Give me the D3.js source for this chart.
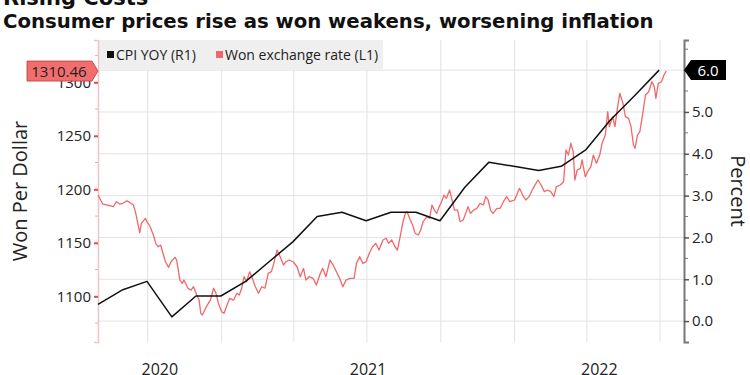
<!DOCTYPE html>
<html>
<head>
<meta charset="utf-8">
<script src="https://cdn.jsdelivr.net/npm/d3@7"></script>
<style>
  body { margin: 0; background: #fff; }
  svg { display: block; }
</style>
</head>
<body>
<svg id="chart"></svg>
<script>
// chart text
const title = "Rising Costs";
const subtitle = "Consumer prices rise as won weakens, worsening inflation";
const legendLabels = ["CPI YOY (R1)", "Won exchange rate (L1)"];
const leftLabel = "Won Per Dollar";
const rightLabel = "Percent";

// CPI year over year, percent (right axis), month end
const cpiYoy = [
  ["2020-07-31", 0.4], ["2020-08-31", 0.75], ["2020-09-30", 0.95], ["2020-10-31", 0.1],
  ["2020-11-30", 0.6], ["2020-12-31", 0.6], ["2021-01-31", 0.95], ["2021-02-28", 1.4],
  ["2021-03-31", 1.9], ["2021-04-30", 2.5], ["2021-05-31", 2.6], ["2021-06-30", 2.4],
  ["2021-07-31", 2.6], ["2021-08-31", 2.6], ["2021-09-30", 2.4], ["2021-10-31", 3.2],
  ["2021-11-30", 3.8], ["2021-12-31", 3.7], ["2022-01-31", 3.6], ["2022-02-28", 3.7],
  ["2022-03-31", 4.1], ["2022-04-30", 4.8], ["2022-05-31", 5.4], ["2022-06-30", 6.0]
];

// won per dollar (left axis)
const wonRate = [
  ["2020-07-31", 1194.7], ["2020-08-06", 1186.2], ["2020-08-12", 1185.3], ["2020-08-19", 1183.7],
  ["2020-08-23", 1188.4], ["2020-08-27", 1186.2], ["2020-08-31", 1186.9], ["2020-09-05", 1189.3],
  ["2020-09-09", 1187.5], ["2020-09-13", 1185.3], ["2020-09-15", 1180.6], ["2020-09-17", 1174.4],
  ["2020-09-19", 1166.6], ["2020-09-21", 1159.4], ["2020-09-23", 1168.2], ["2020-09-28", 1172.9],
  ["2020-09-30", 1169.7], ["2020-10-04", 1165.0], ["2020-10-08", 1157.3], ["2020-10-11", 1149.5],
  ["2020-10-14", 1146.3], ["2020-10-17", 1147.9], ["2020-10-20", 1140.2], ["2020-10-23", 1132.3],
  ["2020-10-27", 1127.1], ["2020-10-30", 1132.3], ["2020-11-04", 1136.4], ["2020-11-06", 1133.9],
  ["2020-11-08", 1124.6], ["2020-11-10", 1115.2], ["2020-11-13", 1112.1], ["2020-11-15", 1115.2],
  ["2020-11-20", 1107.5], ["2020-11-24", 1105.8], ["2020-11-27", 1109.0], ["2020-12-01", 1101.2],
  ["2020-12-04", 1096.5], ["2020-12-06", 1084.1], ["2020-12-08", 1082.5], ["2020-12-13", 1090.3],
  ["2020-12-18", 1096.5], ["2020-12-22", 1107.5], ["2020-12-25", 1102.8], ["2020-12-28", 1093.4],
  ["2021-01-01", 1085.6], ["2021-01-04", 1084.1], ["2021-01-07", 1090.3], ["2021-01-11", 1098.1],
  ["2021-01-16", 1096.5], ["2021-01-20", 1102.8], ["2021-01-23", 1101.2], ["2021-01-26", 1107.5],
  ["2021-01-29", 1118.3], ["2021-02-01", 1113.6], ["2021-02-05", 1122.9], ["2021-02-09", 1115.2],
  ["2021-02-12", 1108.9], ["2021-02-16", 1102.8], ["2021-02-20", 1108.9], ["2021-02-24", 1107.5],
  ["2021-02-28", 1121.5], ["2021-03-04", 1123.0], ["2021-03-07", 1130.8], ["2021-03-11", 1143.2],
  ["2021-03-15", 1137.0], ["2021-03-19", 1129.2], ["2021-03-22", 1132.3], ["2021-03-26", 1133.9],
  ["2021-03-31", 1132.3], ["2021-04-05", 1127.6], ["2021-04-09", 1118.3], ["2021-04-13", 1126.1],
  ["2021-04-16", 1115.2], ["2021-04-20", 1118.3], ["2021-04-25", 1116.8], ["2021-04-29", 1110.5],
  ["2021-05-04", 1121.5], ["2021-05-07", 1126.1], ["2021-05-11", 1118.3], ["2021-05-16", 1133.9],
  ["2021-05-20", 1129.2], ["2021-05-24", 1122.9], ["2021-05-28", 1116.8], ["2021-06-01", 1108.9],
  ["2021-06-05", 1115.2], ["2021-06-10", 1116.8], ["2021-06-15", 1116.8], ["2021-06-18", 1130.8],
  ["2021-06-22", 1137.0], ["2021-06-26", 1130.8], ["2021-06-30", 1132.3], ["2021-07-04", 1140.2],
  ["2021-07-08", 1146.3], ["2021-07-12", 1149.5], ["2021-07-16", 1143.2], ["2021-07-21", 1152.6],
  ["2021-07-25", 1154.2], ["2021-07-28", 1149.5], ["2021-08-01", 1152.6], ["2021-08-05", 1146.3],
  ["2021-08-08", 1143.2], ["2021-08-11", 1154.2], ["2021-08-15", 1169.7], ["2021-08-18", 1177.6],
  ["2021-08-20", 1179.0], ["2021-08-24", 1171.3], ["2021-08-27", 1166.6], ["2021-08-30", 1158.9],
  ["2021-09-03", 1157.3], ["2021-09-06", 1162.0], ["2021-09-09", 1169.7], ["2021-09-14", 1174.4],
  ["2021-09-17", 1172.9], ["2021-09-20", 1185.3], ["2021-09-23", 1180.6], ["2021-09-26", 1177.5],
  ["2021-09-29", 1183.7], ["2021-10-02", 1188.4], ["2021-10-05", 1194.6], ["2021-10-08", 1191.6],
  ["2021-10-12", 1199.3], ["2021-10-15", 1190.0], ["2021-10-18", 1180.6], ["2021-10-22", 1180.6],
  ["2021-10-25", 1169.7], ["2021-10-29", 1171.3], ["2021-11-01", 1177.5], ["2021-11-04", 1183.7],
  ["2021-11-07", 1177.5], ["2021-11-11", 1180.6], ["2021-11-15", 1182.2], ["2021-11-19", 1186.9],
  ["2021-11-23", 1185.3], ["2021-11-26", 1193.1], ["2021-11-29", 1190.0], ["2021-12-02", 1180.6],
  ["2021-12-05", 1177.5], ["2021-12-10", 1182.2], ["2021-12-14", 1182.2], ["2021-12-18", 1188.4],
  ["2021-12-22", 1193.1], ["2021-12-26", 1188.4], ["2022-01-01", 1190.0], ["2022-01-07", 1200.9],
  ["2022-01-11", 1194.6], ["2022-01-15", 1190.0], ["2022-01-19", 1193.1], ["2022-01-24", 1200.9],
  ["2022-01-30", 1208.7], ["2022-02-03", 1204.0], ["2022-02-07", 1197.8], ["2022-02-11", 1199.3],
  ["2022-02-15", 1197.8], ["2022-02-19", 1193.1], ["2022-02-22", 1202.4], ["2022-02-27", 1204.0],
  ["2022-03-03", 1207.1], ["2022-03-06", 1236.7], ["2022-03-09", 1232.0], ["2022-03-12", 1243.0],
  ["2022-03-15", 1235.1], ["2022-03-17", 1208.7], ["2022-03-20", 1218.0], ["2022-03-24", 1219.6],
  ["2022-03-26", 1227.4], ["2022-03-30", 1211.8], ["2022-04-02", 1216.5], ["2022-04-06", 1221.1],
  ["2022-04-09", 1232.0], ["2022-04-13", 1224.3], ["2022-04-17", 1232.0], ["2022-04-20", 1243.0],
  ["2022-04-24", 1250.7], ["2022-04-27", 1272.5], ["2022-04-29", 1258.5], ["2022-05-03", 1267.9],
  ["2022-05-06", 1258.5], ["2022-05-09", 1275.6], ["2022-05-12", 1289.7], ["2022-05-16", 1280.3],
  ["2022-05-19", 1267.9], ["2022-05-23", 1266.3], ["2022-05-26", 1258.5], ["2022-05-29", 1241.4],
  ["2022-05-31", 1238.3], ["2022-06-03", 1250.7], ["2022-06-06", 1253.8], ["2022-06-10", 1272.5],
  ["2022-06-13", 1288.1], ["2022-06-17", 1291.2], ["2022-06-21", 1300.5], ["2022-06-24", 1295.9],
  ["2022-06-26", 1285.0], ["2022-06-29", 1299.0], ["2022-07-03", 1300.5], ["2022-07-06", 1306.8],
  ["2022-07-09", 1310.46]
];

// axis ticks
const leftTicks = [1100, 1150, 1200, 1250, 1300];
const leftMinorTicks = [1075, 1125, 1175, 1225, 1275, 1325];
const rightTicks = [0, 1, 2, 3, 4, 5, 6];
const rightMinorTicks = [0.5, 1.5, 2.5, 3.5, 4.5, 5.5, 6.5];
const years = [2020, 2021, 2022];
const dateRange = ["2020-07-31", "2022-07-31"];

const width = 750, height = 375;
const margin = { top: 40, right: 66, bottom: 33, left: 98 };
const parse = d3.timeParse("%Y-%m-%d");

const svg = d3.select("#chart")
  .attr("width", width)
  .attr("height", height)
  .attr("viewBox", [0, 0, width, height])
  .style("font-family", "'Open Sans', sans-serif");

// scales
const x = d3.scaleTime()
  .domain(dateRange.map(parse))
  .range([margin.left, width - margin.right]);
const yLeft = d3.scaleLinear()
  .domain([1057.3, 1339.5])
  .range([height - margin.bottom, margin.top]);
const yRight = d3.scaleLinear()
  .domain([-0.5, 6.72])
  .range([height - margin.bottom, margin.top]);

// title and subtitle
svg.append("text")
  .text(title)
  .attr("x", 3).attr("y", 5)
  .style("font", "bold 21px 'DejaVu Sans', sans-serif")
  .style("fill", "#111");
svg.append("text")
  .text(subtitle)
  .attr("x", 3).attr("y", 28)
  .style("font", "bold 19.7px 'DejaVu Sans', sans-serif")
  .style("fill", "#111");

// gridlines: horizontal follow the right axis, vertical every quarter
svg.append("g")
  .selectAll("line")
  .data(rightTicks)
  .join("line")
  .attr("x1", margin.left).attr("x2", width - margin.right)
  .attr("y1", d => yRight(d)).attr("y2", d => yRight(d))
  .attr("stroke", "#e2e2e2");
svg.append("g")
  .selectAll("line")
  .data(x.ticks(d3.timeMonth.every(3)))
  .join("line")
  .attr("x1", d => x(d)).attr("x2", d => x(d))
  .attr("y1", margin.top).attr("y2", height - margin.bottom)
  .attr("stroke", "#e2e2e2");

// legend box
const legend = svg.append("g");
legend.append("rect")
  .attr("x", margin.left).attr("y", margin.top)
  .attr("width", 285).attr("height", 30)
  .attr("fill", "#efefef");
const legendX = [107, 216];
const legendColor = ["#111", "#f26767"];
legendLabels.forEach((label, i) => {
  legend.append("rect")
    .attr("x", legendX[i]).attr("y", 51)
    .attr("width", 7).attr("height", 7)
    .attr("fill", legendColor[i]);
  legend.append("text")
    .text(label)
    .attr("x", legendX[i] + 9).attr("y", 60)
    .style("font-size", "14px")
    .style("fill", "#222");
});

// left axis
const leftAxis = svg.append("g")
  .attr("transform", `translate(${margin.left},0)`)
  .call(d3.axisLeft(yLeft).tickValues(leftTicks).tickSize(4).tickPadding(3)
    .tickFormat(d3.format("d")));
leftAxis.select(".domain").attr("stroke", "#f5c2c2").attr("stroke-width", 1.5);
leftAxis.selectAll(".tick line").attr("stroke", "#e8474a").attr("stroke-width", 2);
leftAxis.selectAll(".tick text")
  .style("font-size", "15px")
  .style("font-family", "'Open Sans', sans-serif")
  .attr("fill", "#222");
svg.append("g")
  .selectAll("line")
  .data(leftMinorTicks)
  .join("line")
  .attr("x1", margin.left - 3).attr("x2", margin.left)
  .attr("y1", d => yLeft(d)).attr("y2", d => yLeft(d))
  .attr("stroke", "#f3a9a9");

// right axis
const rightAxis = svg.append("g")
  .attr("transform", `translate(${width - margin.right},0)`)
  .call(d3.axisRight(yRight).tickValues(rightTicks).tickSize(5).tickPadding(3)
    .tickFormat(d3.format(".1f")));
rightAxis.select(".domain").attr("stroke", "#777").attr("stroke-width", 2);
rightAxis.selectAll(".tick line").attr("stroke", "#555").attr("stroke-width", 1.5);
rightAxis.selectAll(".tick text")
  .style("font-size", "15px")
  .style("font-family", "'Open Sans', sans-serif")
  .attr("fill", "#222");
svg.append("g")
  .selectAll("line")
  .data(rightMinorTicks)
  .join("line")
  .attr("x1", width - margin.right).attr("x2", width - margin.right + 4)
  .attr("y1", d => yRight(d)).attr("y2", d => yRight(d))
  .attr("stroke", "#777");

// year labels centred on the visible part of each year
svg.append("g")
  .selectAll("text")
  .data(years)
  .join("text")
  .text(d => d)
  .attr("x", d => {
    const start = Math.max(x(new Date(d, 0, 1)), x.range()[0]);
    const end = Math.min(x(new Date(d + 1, 0, 1)), x.range()[1]);
    return (start + end) / 2;
  })
  .attr("y", 375)
  .attr("text-anchor", "middle")
  .style("font-size", "16px")
  .style("fill", "#222");

// axis titles
svg.append("text")
  .text(leftLabel)
  .attr("transform", `translate(27,${(margin.top + height - margin.bottom) / 2}) rotate(-90)`)
  .attr("text-anchor", "middle")
  .style("font-size", "20px")
  .style("fill", "#222");
svg.append("text")
  .text(rightLabel)
  .attr("transform", `translate(731,${(margin.top + height - margin.bottom) / 2}) rotate(90)`)
  .attr("text-anchor", "middle")
  .style("font-size", "20px")
  .style("fill", "#222");

// lines
const wonLine = d3.line()
  .x(d => x(parse(d[0])))
  .y(d => yLeft(d[1]));
const cpiLine = d3.line()
  .x(d => x(parse(d[0])))
  .y(d => yRight(d[1]));

svg.append("path")
  .attr("fill", "none")
  .attr("stroke", "#f26767")
  .attr("stroke-width", 1.3)
  .attr("stroke-linejoin", "round")
  .attr("d", wonLine(wonRate));
svg.append("path")
  .attr("fill", "none")
  .attr("stroke", "#111")
  .attr("stroke-width", 1.5)
  .attr("stroke-linejoin", "round")
  .attr("d", cpiLine(cpiYoy));

// last value tags
const lastWon = wonRate[wonRate.length - 1][1];
const lastCpi = cpiYoy[cpiYoy.length - 1][1];

const wy = yLeft(lastWon);
const lx = margin.left;
svg.append("path")
  .attr("d", `M${lx},${wy} L${lx - 6},${wy - 10} L${lx - 71},${wy - 10} L${lx - 71},${wy + 10} L${lx - 6},${wy + 10} Z`)
  .attr("fill", "#f26d6d")
  .attr("stroke", "#b73a3a")
  .attr("stroke-width", 0.8);
svg.append("text")
  .text(lastWon.toFixed(2))
  .attr("x", lx - 39).attr("y", wy + 5.5)
  .attr("text-anchor", "middle")
  .style("font-size", "15px")
  .style("fill", "#222");

const cy = yRight(lastCpi);
const rx = width - margin.right;
svg.append("path")
  .attr("d", `M${rx},${cy} L${rx + 7},${cy - 10} L${rx + 42},${cy - 10} L${rx + 42},${cy + 10} L${rx + 7},${cy + 10} Z`)
  .attr("fill", "#000");
svg.append("text")
  .text(d3.format(".1f")(lastCpi))
  .attr("x", rx + 24).attr("y", cy + 5.5)
  .attr("text-anchor", "middle")
  .style("font-size", "15px")
  .style("fill", "#fff");
</script>
</body>
</html>
